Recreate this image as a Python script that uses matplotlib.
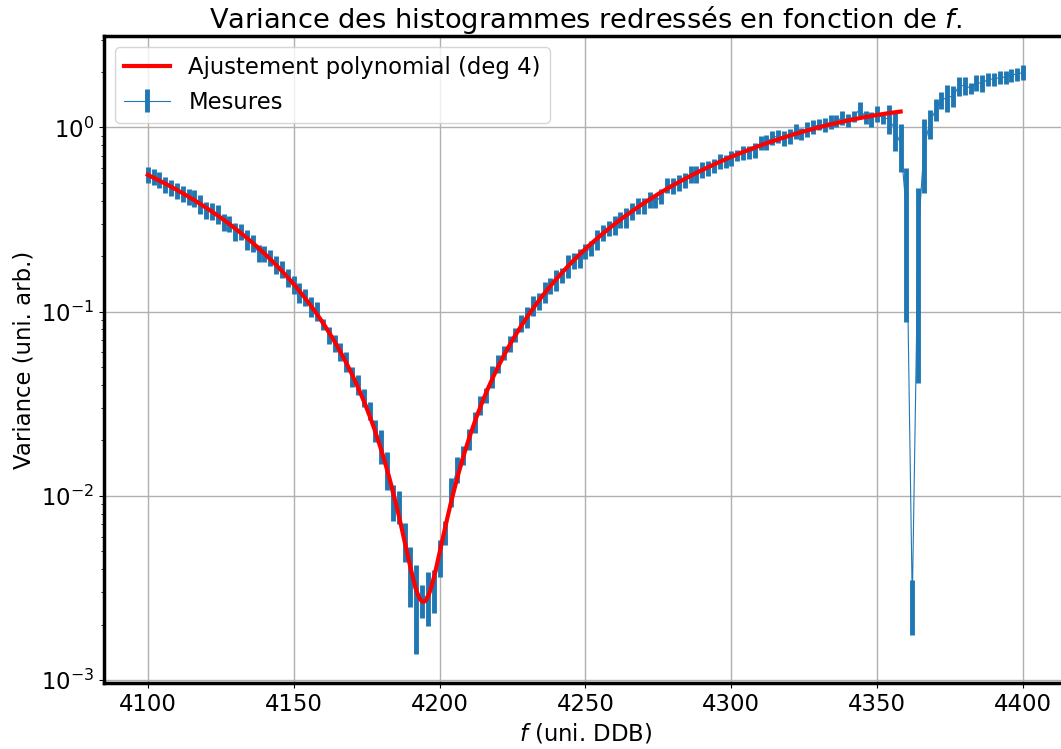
import numpy as np
import matplotlib
matplotlib.use("Agg")
import matplotlib.pyplot as plt

# Frequencies (uni. DDB): measurement grid, step 2
freq = np.arange(4100, 4402, 2)

variance = [
    0.553, 0.544, 0.521, 0.490, 0.470, 0.456, 0.438, 0.423, 0.415, 0.386,
    0.355, 0.353, 0.338, 0.307, 0.301, 0.273, 0.271, 0.247, 0.236, 0.208,
    0.207, 0.197, 0.180, 0.171, 0.153, 0.141, 0.127, 0.120, 0.107, 0.1005,
    0.0853, 0.075, 0.0676, 0.0609, 0.0537, 0.0445, 0.0401, 0.034,
    0.029, 0.0226, 0.0188, 0.014, 0.0094, 0.0088, 0.00575, 0.00387, 0.0028, 0.00272,
    0.00292, 0.00313, 0.0047, 0.00634, 0.0106, 0.0140, 0.0167, 0.0204, 0.0252, 0.0311,
    0.0352, 0.0444, 0.0524, 0.060, 0.067, 0.075, 0.087, 0.094, 0.108, 0.114,
    0.128, 0.139, 0.149, 0.158, 0.178, 0.189, 0.196, 0.212,
    0.2205, 0.248, 0.269, 0.283, 0.296, 0.316, 0.325, 0.353, 0.376, 0.376,
    0.405, 0.396, 0.423, 0.487, 0.485, 0.50, 0.519, 0.558, 0.558, 0.59,
    0.60, 0.619, 0.657, 0.658, 0.682, 0.707, 0.734, 0.737, 0.755,
    0.828, 0.832, 0.88, 0.90, 0.873, 0.90, 0.96, 0.925, 0.98, 1.006,
    1.036, 1.035, 1.07, 1.085, 1.13, 1.095, 1.148, 1.26, 1.136, 1.11,
    1.19, 1.12, 1.117, 0.98, 0.81, 0.347, 0.00263, 0.254, 0.78, 1.06,
    1.25, 1.408, 1.457, 1.48, 1.68, 1.69, 1.637, 1.75, 1.74, 1.83,
    1.83, 1.868, 1.88, 1.93, 1.95, 1.99,
]

variance_err = [
    0.055, 0.054, 0.052, 0.049, 0.047, 0.046, 0.044, 0.042, 0.045, 0.045,
    0.038, 0.037, 0.040, 0.033, 0.030, 0.030, 0.027, 0.030, 0.026, 0.023,
    0.020, 0.020, 0.020, 0.018, 0.017, 0.016, 0.016, 0.013, 0.013, 0.012,
    0.006, 0.008, 0.0075, 0.007, 0.0065, 0.0055, 0.005, 0.0038,
    0.0032, 0.0031, 0.004, 0.0033, 0.0021, 0.0018, 0.0014, 0.00138, 0.00142, 0.00056,
    0.00096, 0.00083, 0.00106, 0.00092, 0.00186, 0.0023, 0.0020, 0.0026, 0.0032, 0.0036,
    0.0033, 0.006, 0.006, 0.0053, 0.0063, 0.0063, 0.009, 0.012, 0.013, 0.012,
    0.016, 0.014, 0.020, 0.015, 0.026, 0.018, 0.023, 0.020,
    0.0205, 0.031, 0.028, 0.027, 0.034, 0.031, 0.040, 0.037, 0.039, 0.039,
    0.040, 0.030, 0.041, 0.046, 0.048, 0.049, 0.049, 0.058, 0.058, 0.058,
    0.056, 0.052, 0.065, 0.055, 0.061, 0.051, 0.064, 0.061, 0.071,
    0.069, 0.073, 0.073, 0.075, 0.082, 0.083, 0.090, 0.070, 0.090, 0.090,
    0.070, 0.085, 0.094, 0.077, 0.095, 0.085, 0.080, 0.110, 0.086, 0.100,
    0.120, 0.080, 0.200, 0.237, 0.240, 0.259, 0.00088, 0.213, 0.337, 0.190,
    0.170, 0.155, 0.240, 0.190, 0.200, 0.190, 0.113, 0.170, 0.180, 0.150,
    0.150, 0.155, 0.157, 0.160, 0.160, 0.190,
]

fit_max_freq = 4358
fit_degree = 4

freq = np.asarray(freq, dtype=float)
variance = np.asarray(variance)
variance_err = np.asarray(variance_err)

mask = freq <= fit_max_freq
coef = np.polyfit(freq[mask] - 4200, variance[mask], fit_degree, w=1 / variance_err[mask])
f_fit = np.linspace(freq[mask].min(), freq[mask].max(), 600)
v_fit = np.polyval(coef, f_fit - 4200)
v_fit = np.where(v_fit > 0, v_fit, np.nan)

plt.rcParams['font.family'] = ['DejaVu Sans']
plt.rcParams['font.size'] = 16.4

fig = plt.figure(figsize=(10.61, 7.49), dpi=100)
ax = fig.add_axes([0.098, 0.088, 0.9076, 0.864])

ax.plot(f_fit, v_fit, color='red', lw=3, label='Ajustement polynomial (deg 4)', zorder=3)
ax.errorbar(freq, variance, yerr=variance_err, fmt='-', color='#1f77b4', lw=0.8,
            elinewidth=3.5, label='Mesures', zorder=2)

ax.set_yscale('log')
ax.set_xlim(4085, 4415)
ax.set_ylim(10 ** -3.017, 10 ** 0.497)
ax.set_xticks([4100, 4150, 4200, 4250, 4300, 4350, 4400])
ax.grid(True, which='major', color='#b0b0b0', lw=1.0)
for s in ax.spines.values():
    s.set_linewidth(2.5)
    s.set_color('black')

ax.set_title('Variance des histogrammes redressés en fonction de $f$.', fontsize=19.6)
ax.set_xlabel('$f$ (uni. DDB)')
ax.set_ylabel('Variance (uni. arb.)')
ax.legend(loc='upper left')

fig.savefig('out.png', dpi=100)
